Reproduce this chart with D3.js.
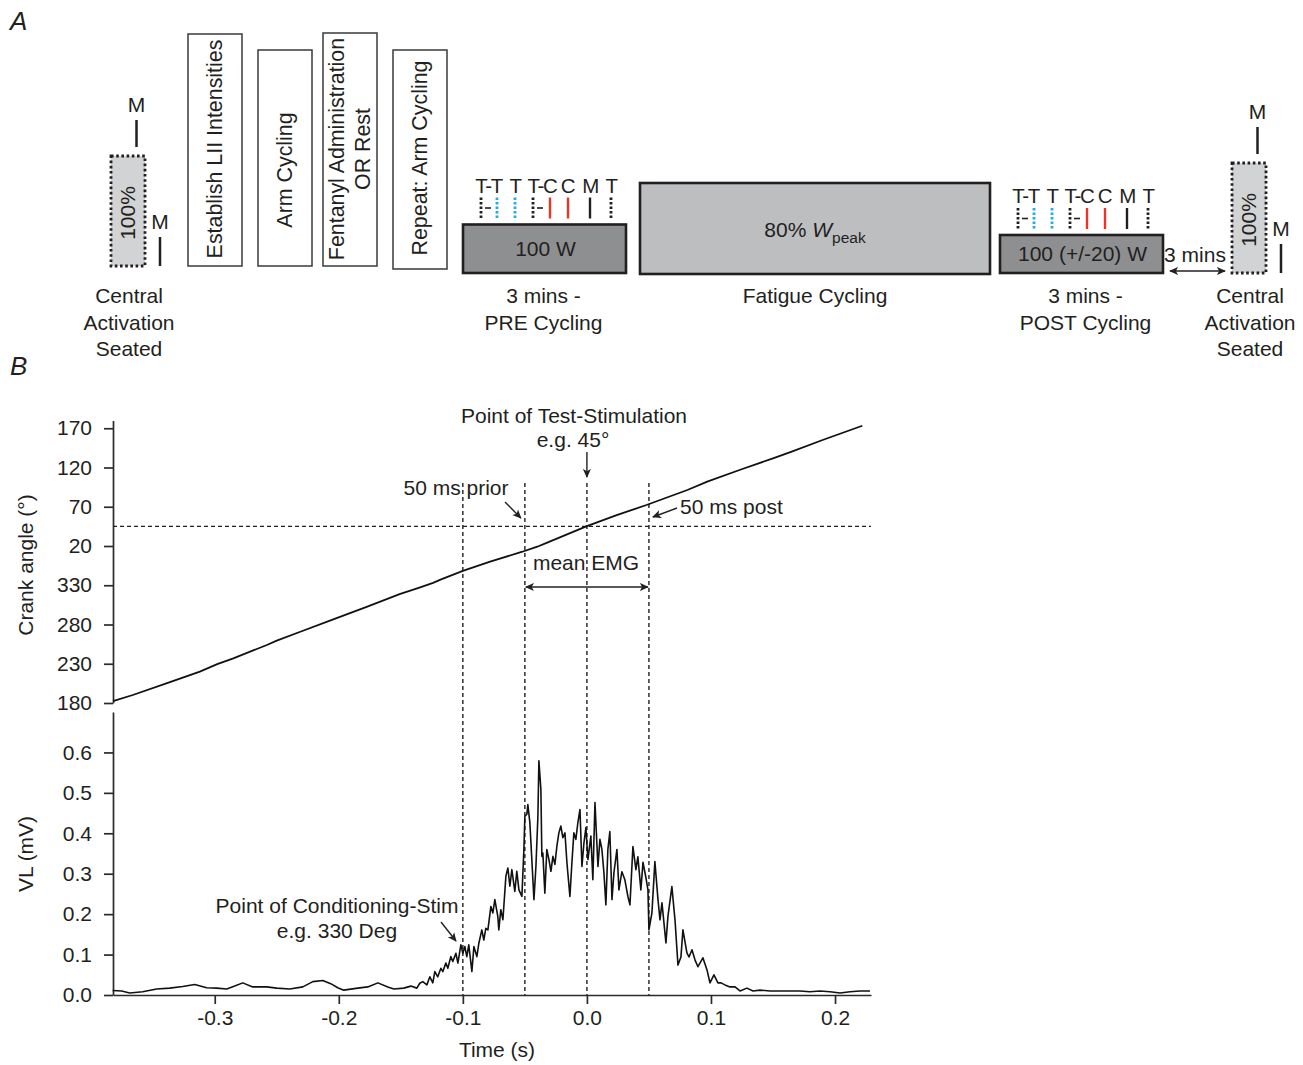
<!DOCTYPE html>
<html>
<head>
<meta charset="utf-8">
<script src="https://cdn.jsdelivr.net/npm/d3@7"></script>
<style>
body { margin: 0; background: #fff; }
svg text { font-family: "Liberation Sans", Arial, Helvetica, sans-serif; fill: #231f20; }
</style>
</head>
<body>
<div id="chart"></div>
<script>
// protocol schematic (A) + crank angle / VL EMG trace (B)

var panelLetters = ['A', 'B']

var prepTexts = [['Establish LII Intensities'], ['Arm Cycling'], ['Fentanyl Administration', 'OR Rest'], ['Repeat: Arm Cycling']]
var phaseTexts = ['100 W', '80% ', '100 (+/-20) W']
var phaseLabels = [['3 mins -', 'PRE Cycling'], ['Fatigue Cycling'], ['3 mins -', 'POST Cycling']]
var centralLabel = ['Central', 'Activation', 'Seated']
var stimLabels = ['T-T', 'T', 'T-C', 'C', 'M', 'T']
var stimKinds = ['dot-k', 'dot-b', 'dot-b', 'dot-k', 'line-r', 'line-r', 'line-k', 'dot-k']

// time in ms, VL in mV
var vlTrace = [[-382.3,0.011],[-375.0,0.010],[-368.5,0.005],[-358.1,0.008],[-346.8,0.015],[-336.3,0.017],[-325.8,0.021],
  [-316.1,0.026],[-306.5,0.018],[-298.4,0.017],[-290.3,0.015],[-283.9,0.022],[-277.4,0.030],[-269.4,0.020],[-258.1,0.020],
  [-250.0,0.017],[-239.5,0.015],[-229.0,0.020],[-220.9,0.033],[-212.9,0.036],[-206.5,0.028],[-200.8,0.018],[-196.0,0.012],
  [-184.7,0.017],[-176.6,0.020],[-168.5,0.030],[-160.5,0.020],[-155.6,0.015],[-147.6,0.017],[-141.9,0.022],[-137.1,0.017],
  [-134.7,0.029],[-132.3,0.033],[-129.0,0.025],[-126.6,0.045],[-124.2,0.030],[-122.6,0.058],[-120.2,0.045],[-117.7,0.066],
  [-116.1,0.058],[-113.7,0.079],[-112.1,0.066],[-109.7,0.095],[-108.1,0.083],[-105.6,0.103],[-104.0,0.079],[-101.6,0.124],
  [-100.0,0.103],[-98.4,0.120],[-96.8,0.095],[-95.2,0.124],[-92.7,0.058],[-91.1,0.120],[-88.7,0.095],[-87.1,0.128],
  [-84.7,0.161],[-83.1,0.136],[-81.5,0.165],[-79.8,0.161],[-77.4,0.219],[-75.8,0.203],[-74.2,0.236],[-71.8,0.194],
  [-71.0,0.161],[-69.4,0.211],[-67.7,0.186],[-65.3,0.294],[-63.7,0.314],[-62.1,0.269],[-60.5,0.310],[-58.1,0.256],
  [-56.5,0.306],[-54.8,0.260],[-52.4,0.244],[-50.8,0.360],[-50.0,0.442],[-48.4,0.447],[-47.6,0.471],[-46.0,0.427],
  [-44.4,0.335],[-42.7,0.236],[-41.1,0.318],[-39.5,0.442],[-38.7,0.579],[-37.1,0.509],[-36.3,0.343],[-35.5,0.351],
  [-33.9,0.252],[-32.3,0.360],[-30.6,0.335],[-29.0,0.306],[-27.4,0.343],[-25.8,0.323],[-24.2,0.368],[-22.6,0.401],
  [-21.0,0.418],[-19.4,0.389],[-17.7,0.401],[-16.1,0.327],[-13.7,0.244],[-12.1,0.327],[-10.5,0.401],[-8.9,0.385],
  [-7.3,0.426],[-5.6,0.459],[-4.0,0.318],[-2.4,0.376],[-0.8,0.414],[0.8,0.335],[3.2,0.393],[4.8,0.285],[6.5,0.476],
  [8.9,0.318],[10.5,0.385],[12.1,0.360],[13.7,0.303],[15.3,0.223],[16.9,0.360],[18.5,0.404],[20.2,0.236],[21.8,0.303],
  [24.2,0.360],[25.8,0.260],[28.2,0.305],[30.6,0.285],[33.1,0.243],[34.7,0.223],[37.1,0.367],[39.5,0.310],[41.1,0.342],
  [43.5,0.260],[45.2,0.328],[47.6,0.290],[49.2,0.260],[50.0,0.161],[52.4,0.203],[54.8,0.330],[57.3,0.236],[58.9,0.186],
  [60.5,0.228],[63.7,0.129],[65.3,0.194],[68.5,0.268],[71.0,0.186],[73.4,0.074],[75.8,0.094],[77.4,0.161],[80.6,0.104],
  [82.3,0.094],[84.7,0.112],[87.1,0.087],[89.5,0.070],[93.5,0.092],[96.8,0.062],[99.2,0.030],[102.4,0.050],[105.6,0.030],
  [108.1,0.030],[111.3,0.025],[115.3,0.020],[119.4,0.020],[123.4,0.010],[129.0,0.017],[133.9,0.010],[139.5,0.012],
  [147.6,0.010],[155.6,0.010],[163.7,0.010],[171.8,0.010],[179.8,0.008],[187.9,0.010],[196.0,0.008],[204.0,0.005],
  [212.1,0.008],[220.2,0.010],[228.2,0.010]]

// time in ms, crank angle unwrapped (deg)
var crankTrace = [[-382,182.5],[-366,190.2],[-339,205.1],[-312,219.9],[-298,229.6],[-285,236.9],[-258,253.9],[-250,259.5],
  [-231,270.8],[-205,286.2],[-177,302.7],[-151,318.7],[-135,327.1],[-124,333.0],[-118,337.2],[-100,348.4],[-78,360.0],
  [-52,372.7],[-40,379.1],[-32,384.4],[0,405.4],[24,419.4],[48,432.2],[81,451.3],[97,461.9],[123,476.8],[150,491.7],
  [164,499.6],[190,515.0],[222,533.2]]

var timeTicks = [-300, -200, -100, 0, 100, 200]
var angleTicks = [180, 230, 280, 330, 380, 430, 480, 530]
var vlTicks = [0, 0.1, 0.2, 0.3, 0.4, 0.5, 0.6]
var markerTimes = [-100, -50, 0, 50]
var stimAngle = 405   // 45 deg on the next revolution

var width = 1303,
	height = 1065,
	ink = '#231f20',
	blue = '#27aae1',
	red = '#ec3525',
	fs = '21px'

var svg = d3.select('#chart').append('svg')
	.attr('width', width)
	.attr('height', height)

var defs = svg.append('defs')
defs.append('marker')
	.attr('id', 'arrow')
	.attr('viewBox', '0 -5 10 10')
	.attr('refX', 9).attr('refY', 0)
	.attr('markerWidth', 9).attr('markerHeight', 9)
	.attr('markerUnits', 'userSpaceOnUse')
	.attr('orient', 'auto-start-reverse')
  .append('path')
	.attr('d', 'M0,-4.5L10,0L0,4.5L2.5,0Z')
	.style('fill', ink)

svg.selectAll('text.panel').data(panelLetters)
  .enter().append('text')
	.classed('panel', true)
	.text(function(d){ return d })
	.attr('x', 10)
	.attr('y', function(d, i){ return i === 0 ? 30 : 375 })
	.style('font-size', '26px')
	.style('font-style', 'italic')

// ---------- panel A ----------
var pa = svg.append('g')

function drawCentral(x0, y0){
	var g = pa.append('g')
	g.append('rect')
		.attr('x', x0).attr('y', y0)
		.attr('width', 34).attr('height', 110)
		.style('fill', '#d2d3d5')
		.style('stroke', ink)
		.style('stroke-width', 2.8)
		.style('stroke-dasharray', '2.6,2.6')
	g.append('text')
		.text('100%')
		.attr('transform', 'translate(' + (x0 + 17) + ',' + (y0 + 57) + ') rotate(-90)')
		.attr('dy', '0.35em')
		.attr('text-anchor', 'middle')
		.style('font-size', fs)
	g.append('line')
		.attr('x1', x0 + 25.5).attr('x2', x0 + 25.5)
		.attr('y1', y0 - 36).attr('y2', y0 - 9)
		.style('stroke', ink).style('stroke-width', 2.5)
	g.append('text').text('M')
		.attr('x', x0 + 25.5).attr('y', y0 - 44)
		.attr('text-anchor', 'middle')
		.style('font-size', fs)
	g.append('line')
		.attr('x1', x0 + 49).attr('x2', x0 + 49)
		.attr('y1', y0 + 81).attr('y2', y0 + 110)
		.style('stroke', ink).style('stroke-width', 2.5)
	g.append('text').text('M')
		.attr('x', x0 + 49).attr('y', y0 + 73)
		.attr('text-anchor', 'middle')
		.style('font-size', fs)
	g.selectAll('text.clabel').data(centralLabel)
	  .enter().append('text')
		.classed('clabel', true)
		.text(function(d){ return d })
		.attr('x', x0 + 18)
		.attr('y', function(d, i){ return 303 + i * 26.5 })
		.attr('text-anchor', 'middle')
		.style('font-size', fs)
}

drawCentral(111, 156)
drawCentral(1232, 163)

// tall white boxes with rotated text
var prepBoxes = [{x: 188, y: 34, h: 232, cy: 149},
				 {x: 258, y: 50, h: 216, cy: 170},
				 {x: 323, y: 33, h: 233, cy: 149},
				 {x: 393, y: 50, h: 219, cy: 158}]

prepBoxes.forEach(function(b, i){
	pa.append('rect')
		.attr('x', b.x).attr('y', b.y)
		.attr('width', 54).attr('height', b.h)
		.style('fill', '#fff')
		.style('stroke', '#3a3a3a')
		.style('stroke-width', 1.5)
	var lines = prepTexts[i]
	lines.forEach(function(t, j){
		var cx = b.x + 27 + (j - (lines.length - 1) / 2) * 26 - 1
		pa.append('text')
			.text(t)
			.attr('transform', 'translate(' + cx + ',' + b.cy + ') rotate(-90)')
			.attr('dy', '0.35em')
			.attr('text-anchor', 'middle')
			.style('font-size', '21.4px')
	})
})

// cycling phases
var phaseBoxes = [{x: 463, y: 224.5, w: 163, h: 48.5, fill: '#8e8f91', ty: 256, lx: -1, stim: true},
				  {x: 640, y: 183, w: 350, h: 91, fill: '#bdbec0', ty: 237, lx: 0, stim: false},
				  {x: 1000, y: 235, w: 163, h: 38, fill: '#8e8f91', ty: 261, lx: 4, stim: true}]

phaseBoxes.forEach(function(b, i){
	pa.append('rect')
		.attr('x', b.x).attr('y', b.y)
		.attr('width', b.w).attr('height', b.h)
		.style('fill', b.fill)
		.style('stroke', ink)
		.style('stroke-width', 2.6)
	var t = pa.append('text')
		.attr('x', b.x + b.w / 2 + (i === 1 ? 0 : 1))
		.attr('y', b.ty)
		.attr('text-anchor', 'middle')
		.style('font-size', fs)
	t.append('tspan').text(phaseTexts[i])
	if (i === 1) {
		t.append('tspan').text('W').style('font-style', 'italic')
		t.append('tspan').text('peak').attr('dy', 6).style('font-size', '15.5px')
	}
	phaseLabels[i].forEach(function(l, j){
		pa.append('text')
			.text(l)
			.attr('x', b.x + b.w / 2 + b.lx)
			.attr('y', 303 + j * 26.5)
			.attr('text-anchor', 'middle')
			.style('font-size', fs)
	})
	if (!b.stim) return

	// stimulation marks above the box
	var labelDx = [25.5, 52, 79, 104.5, 127, 148]
	var markDx = [18, 34, 52, 70, 87, 105, 127, 148]
	var top = b.y - 27, bottom = b.y - 6
	pa.selectAll(null).data(stimLabels)
	  .enter().append('text')
		.text(function(d){ return d })
		.attr('x', function(d, k){ return b.x + labelDx[k] })
		.attr('y', b.y - 32)
		.attr('text-anchor', 'middle')
		.style('font-size', '20.5px')
		.style('letter-spacing', '-1.4px')
	pa.selectAll(null).data(stimKinds)
	  .enter().append('line')
		.attr('x1', function(d, k){ return b.x + markDx[k] })
		.attr('x2', function(d, k){ return b.x + markDx[k] })
		.attr('y1', top).attr('y2', bottom)
		.style('stroke', function(d){
			var c = d.split('-')[1]
			return c === 'b' ? blue : (c === 'r' ? red : ink)
		})
		.style('stroke-width', function(d){ return d.indexOf('dot') === 0 ? 2.8 : 2.4 })
		.style('stroke-dasharray', function(d){ return d.indexOf('dot') === 0 ? '2.5,2' : null })
	;[0, 3].forEach(function(k){
		pa.append('line')
			.attr('x1', b.x + markDx[k] + 4).attr('x2', b.x + markDx[k] + 10)
			.attr('y1', (top + bottom) / 2).attr('y2', (top + bottom) / 2)
			.style('stroke', ink).style('stroke-width', 1.6)
	})
})

// 3 mins gap
pa.append('line')
	.attr('x1', 1170).attr('x2', 1225)
	.attr('y1', 271).attr('y2', 271)
	.attr('marker-start', 'url(#arrow)')
	.attr('marker-end', 'url(#arrow)')
	.style('stroke', ink).style('stroke-width', 1.5)
pa.append('text')
	.text('3 mins')
	.attr('x', 1195).attr('y', 262)
	.attr('text-anchor', 'middle')
	.style('font-size', fs)

// ---------- panel B ----------
var x = d3.scaleLinear().domain([-382, 229]).range([113, 871])
var yAngle = d3.scaleLinear().domain([180, 540]).range([703, 420.4])
var yVL = d3.scaleLinear().domain([0, 0.7]).range([995, 712])

// plain hyphen for negatives, as in the original figure
function fmt1(v){ return v.toFixed(1).replace('\u2212', '-') }

function styleAxis(g){
	g.attr('font-size', 21)
	 .attr('font-family', '"Liberation Sans", Arial, sans-serif')
	 .style('color', '#2b2b2b')
	g.selectAll('path, line').style('stroke-width', 1.7)
}

svg.append('g')
	.attr('transform', 'translate(113,0)')
	.call(d3.axisLeft(yAngle).tickValues(angleTicks)
		.tickFormat(function(d){ return d % 360 })
		.tickSize(9).tickPadding(12).tickSizeOuter(0))
	.call(styleAxis)

svg.append('g')
	.attr('transform', 'translate(113,0)')
	.call(d3.axisLeft(yVL).tickValues(vlTicks)
		.tickFormat(fmt1)
		.tickSize(9).tickPadding(12).tickSizeOuter(0))
	.call(styleAxis)

svg.append('g')
	.attr('transform', 'translate(0,995)')
	.call(d3.axisBottom(x).tickValues(timeTicks)
		.tickFormat(function(d){ return fmt1(d / 1000) })
		.tickSize(9).tickPadding(6).tickSizeOuter(0))
	.call(styleAxis)

// reference lines
svg.append('line')
	.attr('x1', x.range()[0]).attr('x2', x.range()[1])
	.attr('y1', yAngle(stimAngle)).attr('y2', yAngle(stimAngle))
	.style('stroke', ink).style('stroke-width', 1.4)
	.style('stroke-dasharray', '4,3')

svg.selectAll('line.marker').data(markerTimes)
  .enter().append('line')
	.classed('marker', true)
	.attr('x1', function(d){ return x(d) })
	.attr('x2', function(d){ return x(d) })
	.attr('y1', 483).attr('y2', yVL(0))
	.style('stroke', ink).style('stroke-width', 1.4)
	.style('stroke-dasharray', '4,3')

// traces
svg.append('path')
	.datum(crankTrace)
	.attr('d', d3.line()
		.x(function(d){ return x(d[0]) })
		.y(function(d){ return yAngle(d[1]) }))
	.style('fill', 'none')
	.style('stroke', '#111')
	.style('stroke-width', 1.8)

svg.append('path')
	.datum(vlTrace)
	.attr('d', d3.line()
		.x(function(d){ return x(d[0]) })
		.y(function(d){ return yVL(d[1]) }))
	.style('fill', 'none')
	.style('stroke', '#111')
	.style('stroke-width', 1.6)
	.style('stroke-linejoin', 'round')

// annotations
var notes = [{t: 'Point of Test-Stimulation', x: 574, y: 423, a: 'middle'},
			 {t: 'e.g. 45\u00b0', x: 573, y: 447, a: 'middle'},
			 {t: '50 ms prior', x: 456, y: 495, a: 'middle'},
			 {t: '50 ms post', x: 680, y: 514, a: 'start'},
			 {t: 'mean EMG', x: 586, y: 570, a: 'middle'},
			 {t: 'Point of Conditioning-Stim', x: 337, y: 913, a: 'middle'},
			 {t: 'e.g. 330 Deg', x: 337, y: 938, a: 'middle'}]

svg.selectAll('text.note').data(notes)
  .enter().append('text')
	.classed('note', true)
	.text(function(d){ return d.t })
	.attr('x', function(d){ return d.x })
	.attr('y', function(d){ return d.y })
	.attr('text-anchor', function(d){ return d.a })
	.style('font-size', fs)

var arrows = [[x(0), 452, x(0), 477],
			  [505, 502, x(-50) - 4, 518],
			  [677, 508, x(50) + 4, 517],
			  [441, 922, 456, 941]]

svg.selectAll('line.arrow').data(arrows)
  .enter().append('line')
	.classed('arrow', true)
	.attr('x1', function(d){ return d[0] })
	.attr('y1', function(d){ return d[1] })
	.attr('x2', function(d){ return d[2] })
	.attr('y2', function(d){ return d[3] })
	.attr('marker-end', 'url(#arrow)')
	.style('stroke', ink).style('stroke-width', 1.4)

svg.append('line')
	.attr('x1', x(-50) + 1).attr('x2', x(50) - 1)
	.attr('y1', 587).attr('y2', 587)
	.attr('marker-start', 'url(#arrow)')
	.attr('marker-end', 'url(#arrow)')
	.style('stroke', ink).style('stroke-width', 1.4)

// axis titles
svg.append('text')
	.text('Crank angle (\u00b0)')
	.attr('transform', 'translate(33,565) rotate(-90)')
	.attr('text-anchor', 'middle')
	.style('font-size', fs)

svg.append('text')
	.text('VL (mV)')
	.attr('transform', 'translate(33,854) rotate(-90)')
	.attr('text-anchor', 'middle')
	.style('font-size', fs)

svg.append('text')
	.text('Time (s)')
	.attr('x', 497).attr('y', 1057)
	.attr('text-anchor', 'middle')
	.style('font-size', fs)
</script>
</body>
</html>
